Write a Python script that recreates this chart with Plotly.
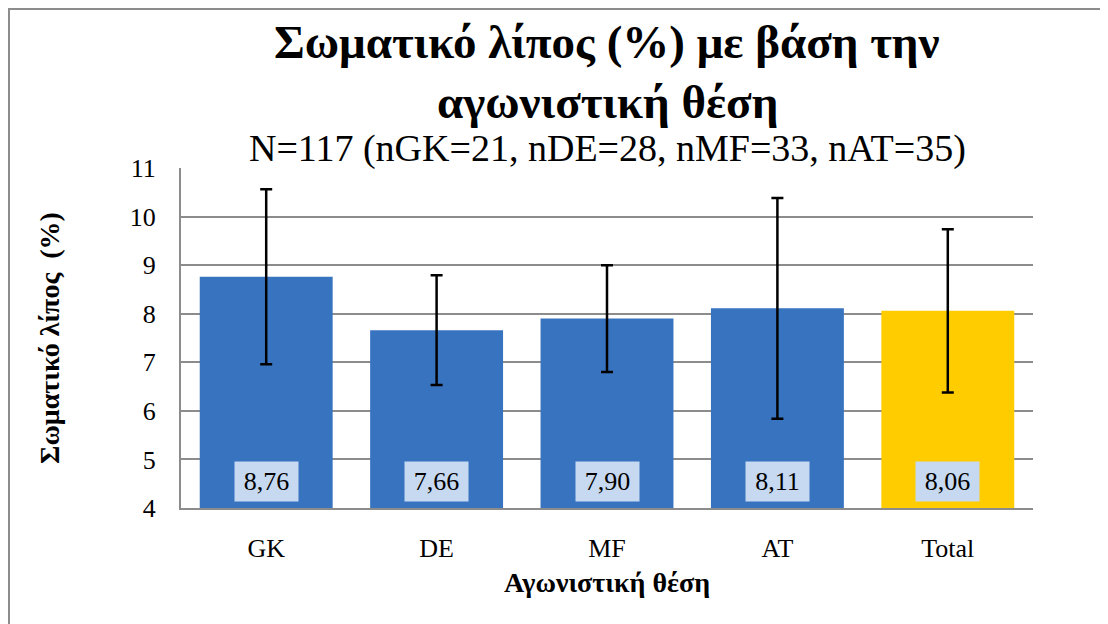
import plotly.graph_objects as go

categories = ["GK", "DE", "MF", "AT", "Total"]
means = [8.76, 7.66, 7.90, 8.11, 8.06]
sds = [1.80, 1.13, 1.10, 2.27, 1.68]
labels = ["8,76", "7,66", "7,90", "8,11", "8,06"]
bar_colors = ["#3873C0", "#3873C0", "#3873C0", "#3873C0", "#FFCC00"]
y_ticks = [4, 5, 6, 7, 8, 9, 10, 11]

title_line1 = "Σωματικό λίπος (%) με βάση την"
title_line2 = "αγωνιστική θέση"
subtitle = "N=117 (nGK=21, nDE=28, nMF=33, nAT=35)"
x_title = "Αγωνιστική θέση"
y_title = "Σωματικό λίπος  (%)"

FONT = "Liberation Serif"

fig = go.Figure()
fig.add_trace(go.Bar(
    x=categories, y=means,
    marker=dict(color=bar_colors, line=dict(width=0)),
    error_y=dict(type="data", array=sds, visible=True, color="black",
                 thickness=2.5, width=6),
    showlegend=False, hoverinfo="skip",
))

for c, lab in zip(categories, labels):
    fig.add_annotation(x=c, y=4.55, text=lab, showarrow=False,
                       xref="x", yref="y",
                       font=dict(family=FONT, size=26, color="black"),
                       bgcolor="#C6D9F1", borderpad=4, width=55, height=31)

fig.add_annotation(x=0.5, y=1.3706, xref="paper", yref="paper",
                   xanchor="center", yanchor="middle", showarrow=False,
                   text="<b>" + title_line1 + "</b>",
                   font=dict(family=FONT, size=47, color="black"))
fig.add_annotation(x=0.5, y=1.194, xref="paper", yref="paper",
                   xanchor="center", yanchor="middle", showarrow=False,
                   text="<b>" + title_line2 + "</b>",
                   font=dict(family=FONT, size=47, color="black"))
fig.add_annotation(x=0.5, y=1.0588, xref="paper", yref="paper",
                   xanchor="center", yanchor="middle", showarrow=False,
                   text=subtitle,
                   font=dict(family=FONT, size=38, color="black"))

# outer chart border
fig.add_shape(type="rect", xref="paper", yref="paper",
              x0=-0.2019, x1=1.10, y0=-0.36, y1=1.4676,
              line=dict(color="#8C8C8C", width=2), fillcolor="rgba(0,0,0,0)",
              layer="below")

fig.update_layout(
    width=1100, height=616,
    margin=dict(l=173, r=75, t=160, b=116),
    paper_bgcolor="white", plot_bgcolor="white",
    bargap=0.22,
    xaxis=dict(showgrid=False, showline=True, linecolor="#8C8C8C", linewidth=2,
               ticks="", tickfont=dict(family=FONT, size=26, color="black"),
               ticklabelstandoff=16,
               title=dict(text="<b>" + x_title + "</b>", standoff=10,
                          font=dict(family=FONT, size=28, color="black"))),
    yaxis=dict(range=[4, 11], tickvals=y_ticks, showgrid=True,
               gridcolor="#8C8C8C", gridwidth=2, showline=True,
               linecolor="#8C8C8C", linewidth=2, ticks="", zeroline=False,
               tickfont=dict(family=FONT, size=26, color="black"),
               ticklabelstandoff=18,
               title=dict(text="<b>" + y_title + "</b>", standoff=62,
                          font=dict(family=FONT, size=28, color="black"))),
)

fig.write_html("out.html")
